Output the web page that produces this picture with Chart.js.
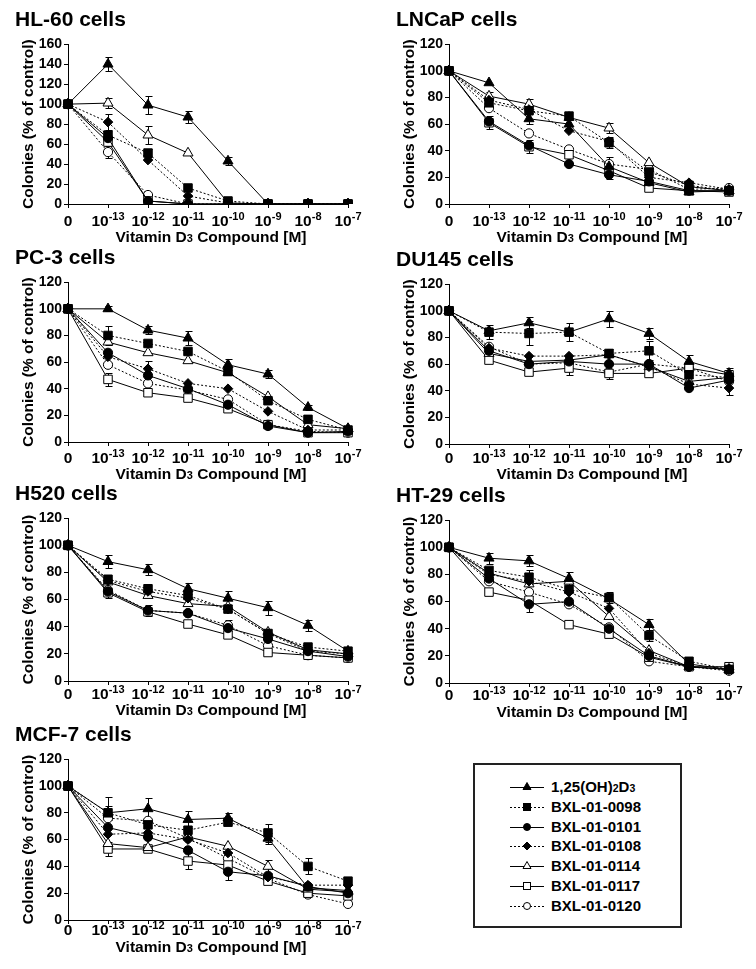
<!DOCTYPE html>
<html>
<head>
<meta charset="utf-8">
<script src="https://cdn.jsdelivr.net/npm/chart.js@4"></script>
<style>
  html, body { margin: 0; padding: 0; background: #fff; }
  body { width: 756px; height: 969px; position: relative; overflow: hidden; font-family: 'Liberation Sans', Arial, sans-serif; }
  canvas.panel { position: absolute; }
  #legend { position: absolute; left: 473px; top: 763px; width: 205px; height: 161px; border: 2px solid #222; }
  #legend .row { position: absolute; left: 0; height: 20px; width: 205px; }
  #legend svg { position: absolute; left: 35px; top: 3px; }
  #legend span.t { position: absolute; left: 76px; top: 1px; font: bold 15px 'Liberation Sans', Arial, sans-serif; color: #000; white-space: nowrap; }
  #legend span.s { font-size: 10.5px; }
</style>
</head>
<body>
<div id="legend"></div>
<script>
// ---------------- DATA ----------------
// "^" marks a superscript, "_" a subscript (one token following it)
const X_LABELS = ['0', '10^-13', '10^-12', '10^-11', '10^-10', '10^-9', '10^-8', '10^-7'];
const SERIES_NAMES = ['1,25(OH)_2D_3', 'BXL-01-0098', 'BXL-01-0101', 'BXL-01-0108', 'BXL-01-0114', 'BXL-01-0117', 'BXL-01-0120'];
const PANEL_TITLES = ['HL-60 cells', 'LNCaP cells', 'PC-3 cells', 'DU145 cells', 'H520 cells', 'HT-29 cells', 'MCF-7 cells'];
const Y_TITLE = 'Colonies (% of control)';
const X_TITLE = 'Vitamin D_3 Compound [M]';
const Y_MAX = [160, 120, 120, 120, 120, 120, 120];

// rows follow SERIES_NAMES order
const HL60_VALUES = [
  [100, 140, 99, 87, 43, 0, 0, 0],
  [100, 69, 51, 16, 3, 0, 0, 0],
  [100, 66, 3, 0, 0, 0, 0, 0],
  [100, 82, 44, 8, 1, 0, 0, 0],
  [100, 101, 69, 51, 1, 0, 0, 0],
  [100, 62, 3, 0, 0, 0, 0, 0],
  [100, 52, 9, 0, 0, 0, 0, 0]
];
const HL60_ERRORS = [
  [0, 7, 9, 6, 4, 0, 0, 0],
  [0, 0, 4, 0, 0, 0, 0, 0],
  [0, 0, 0, 0, 0, 0, 0, 0],
  [0, 8, 0, 0, 0, 0, 0, 0],
  [0, 5, 9, 0, 0, 0, 0, 0],
  [0, 0, 0, 0, 0, 0, 0, 0],
  [0, 6, 0, 0, 0, 0, 0, 0]
];
const LNCAP_VALUES = [
  [100, 91, 64, 60, 28, 16, 9, 10],
  [100, 76, 70, 66, 46, 24, 14, 10],
  [100, 62, 44, 30, 22, 17, 10, 10],
  [100, 78, 71, 55, 47, 20, 16, 11],
  [100, 81, 75, 65, 57, 31, 13, 10],
  [100, 61, 43, 37, 25, 12, 10, 9],
  [100, 72, 53, 41, 30, 26, 11, 12]
];
const LNCAP_ERRORS = [
  [0, 0, 4, 0, 0, 0, 0, 0],
  [0, 0, 0, 0, 4, 0, 0, 0],
  [0, 0, 0, 0, 3, 0, 0, 0],
  [0, 0, 0, 0, 0, 0, 0, 0],
  [0, 3, 4, 0, 4, 0, 0, 0],
  [0, 5, 5, 0, 0, 0, 0, 0],
  [0, 0, 0, 0, 5, 0, 0, 0]
];
const PC3_VALUES = [
  [100, 100, 84, 78, 58, 51, 26, 10],
  [100, 80, 74, 68, 53, 31, 17, 9],
  [100, 67, 50, 40, 28, 12, 7, 8],
  [100, 64, 55, 44, 40, 23, 9, 9],
  [100, 75, 67, 61, 52, 34, 13, 10],
  [100, 47, 37, 33, 25, 13, 7, 7],
  [100, 58, 44, 39, 32, 13, 8, 7]
];
const PC3_ERRORS = [
  [0, 2, 3, 5, 4, 3, 2, 0],
  [0, 7, 0, 0, 0, 0, 0, 0],
  [0, 0, 0, 0, 0, 0, 0, 0],
  [0, 0, 6, 0, 0, 0, 0, 0],
  [0, 0, 0, 0, 0, 0, 0, 0],
  [0, 5, 0, 0, 0, 0, 0, 0],
  [0, 0, 0, 0, 0, 0, 0, 0]
];
const DU145_VALUES = [
  [100, 85, 91, 84, 94, 83, 62, 53],
  [100, 84, 83, 84, 68, 70, 52, 50],
  [100, 70, 60, 62, 60, 60, 42, 48],
  [100, 72, 66, 66, 67, 58, 45, 42],
  [100, 68, 62, 63, 67, 58, 47, 50],
  [100, 63, 54, 57, 53, 53, 57, 52],
  [100, 73, 60, 61, 54, 60, 57, 47]
];
const DU145_ERRORS = [
  [0, 0, 4, 0, 6, 4, 5, 4],
  [0, 5, 9, 7, 3, 7, 0, 0],
  [0, 0, 0, 0, 0, 0, 0, 0],
  [0, 0, 0, 0, 0, 0, 0, 5],
  [0, 0, 0, 0, 0, 0, 0, 0],
  [0, 0, 0, 5, 0, 0, 0, 0],
  [0, 0, 0, 0, 5, 0, 0, 0]
];
const H520_VALUES = [
  [100, 88, 82, 68, 61, 54, 41, 22],
  [100, 75, 68, 63, 53, 35, 25, 22],
  [100, 66, 52, 50, 39, 31, 22, 18],
  [100, 74, 66, 61, 53, 35, 22, 20],
  [100, 73, 63, 57, 55, 36, 23, 20],
  [100, 65, 51, 42, 34, 21, 19, 17],
  [100, 67, 52, 50, 41, 26, 19, 17]
];
const H520_ERRORS = [
  [0, 5, 4, 4, 5, 5, 4, 0],
  [0, 0, 0, 0, 0, 0, 0, 0],
  [0, 0, 0, 0, 0, 0, 0, 0],
  [0, 0, 0, 0, 0, 0, 0, 0],
  [0, 0, 0, 0, 0, 0, 0, 0],
  [0, 0, 0, 0, 0, 0, 0, 0],
  [0, 6, 4, 0, 4, 0, 0, 0]
];
const HT29_VALUES = [
  [100, 92, 90, 77, 62, 43, 14, 10],
  [100, 83, 78, 69, 63, 35, 16, 10],
  [100, 77, 58, 60, 40, 20, 12, 10],
  [100, 80, 75, 67, 55, 22, 12, 10],
  [100, 81, 73, 75, 49, 24, 12, 10],
  [100, 67, 61, 43, 36, 19, 12, 12],
  [100, 75, 67, 58, 41, 16, 12, 9]
];
const HT29_ERRORS = [
  [0, 4, 4, 5, 0, 4, 0, 0],
  [0, 0, 5, 0, 4, 4, 0, 0],
  [0, 0, 6, 0, 0, 0, 0, 0],
  [0, 0, 0, 0, 0, 0, 0, 0],
  [0, 0, 0, 0, 0, 0, 0, 0],
  [0, 0, 0, 0, 0, 0, 0, 0],
  [0, 0, 0, 0, 0, 0, 0, 0]
];
const MCF7_VALUES = [
  [100, 80, 83, 75, 76, 61, 24, 22],
  [100, 80, 71, 67, 73, 65, 40, 29],
  [100, 69, 62, 52, 36, 33, 25, 20],
  [100, 64, 65, 60, 50, 32, 26, 26],
  [100, 57, 54, 62, 55, 40, 23, 21],
  [100, 53, 53, 44, 41, 29, 20, 18],
  [100, 76, 74, 61, 46, 31, 19, 12]
];
const MCF7_ERRORS = [
  [0, 12, 8, 6, 4, 4, 0, 0],
  [0, 5, 0, 0, 0, 7, 6, 0],
  [0, 0, 0, 0, 6, 0, 0, 0],
  [0, 0, 0, 0, 0, 0, 0, 0],
  [0, 0, 0, 0, 0, 5, 0, 0],
  [0, 5, 0, 6, 0, 0, 0, 0],
  [0, 0, 0, 0, 0, 0, 0, 0]
];

const PANEL_VALUES = [HL60_VALUES, LNCAP_VALUES, PC3_VALUES, DU145_VALUES, H520_VALUES, HT29_VALUES, MCF7_VALUES];
const PANEL_ERRORS = [HL60_ERRORS, LNCAP_ERRORS, PC3_ERRORS, DU145_ERRORS, H520_ERRORS, HT29_ERRORS, MCF7_ERRORS];

// ---------------- STYLE / LAYOUT ----------------
const FONT = "'Liberation Sans', Arial, sans-serif";
// canvas left, top, height, tick-label baseline offset, axis-title baseline offset
const PANEL_BOXES = [
  [0, 0, 245, 22, 38], [381, 0, 245, 22, 38],
  [0, 238, 245, 21, 37], [381, 240, 245, 19, 35],
  [0, 474, 248, 18, 34], [381, 476, 248, 17, 34],
  [0, 715, 246, 15, 32]
];
const SERIES_STYLE = [
  { pointStyle: 'triangle', fill: '#000', dash: [], r: 5.8 },
  { pointStyle: 'rect', fill: '#000', dash: [2, 2], r: 6 },
  { pointStyle: 'circle', fill: '#000', dash: [], r: 4.6 },
  { pointStyle: 'rectRot', fill: '#000', dash: [2, 2], r: 4.8 },
  { pointStyle: 'triangle', fill: '#fff', dash: [], r: 5.8 },
  { pointStyle: 'rect', fill: '#fff', dash: [], r: 6 },
  { pointStyle: 'circle', fill: '#fff', dash: [2, 2], r: 4.6 }
];

Chart.defaults.font.family = FONT;
Chart.defaults.font.weight = 'bold';
Chart.defaults.color = '#000';

// split "10^-13" / "D_3" into [text, kind] segments
function parseRich(str) {
  const segs = [];
  const re = /([\^_])([^\s\^_A-Za-z\[\]()]+)/g;
  let last = 0, m;
  while ((m = re.exec(str))) {
    if (m.index > last) segs.push([str.slice(last, m.index), 'n']);
    segs.push([m[2], m[1] === '^' ? 'sup' : 'sub']);
    last = re.lastIndex;
  }
  if (last < str.length) segs.push([str.slice(last), 'n']);
  return segs;
}

function drawRich(ctx, str, cx, baseline, size, smallSize, supRise) {
  const segs = parseRich(str);
  const fontFor = k => `bold ${k === 'n' ? size : smallSize}px ${FONT}`;
  let total = 0;
  segs.forEach(([t, k]) => { ctx.font = fontFor(k); total += ctx.measureText(t).width; });
  let x = cx - total / 2;
  segs.forEach(([t, k]) => {
    ctx.font = fontFor(k);
    const y = k === 'sup' ? baseline - supRise : baseline;
    ctx.fillText(t, x, y);
    x += ctx.measureText(t).width;
  });
}

const errorBarPlugin = {
  id: 'errorBars',
  beforeDatasetsDraw(chart) {
    const ctx = chart.ctx, xs = chart.scales.x, ys = chart.scales.y;
    ctx.save();
    ctx.strokeStyle = '#000';
    ctx.lineWidth = 1;
    ctx.setLineDash([]);
    chart.data.datasets.forEach(ds => {
      if (!ds.errors) return;
      ds.data.forEach((v, j) => {
        const e = ds.errors[j];
        if (!e) return;
        const px = Math.round(xs.getPixelForValue(j)) + 0.5;
        const t = Math.round(ys.getPixelForValue(v + e)) + 0.5;
        const b = Math.round(ys.getPixelForValue(Math.max(0, v - e))) + 0.5;
        ctx.beginPath();
        ctx.moveTo(px, t); ctx.lineTo(px, b);
        ctx.moveTo(px - 3, t); ctx.lineTo(px + 4, t);
        ctx.moveTo(px - 3, b); ctx.lineTo(px + 4, b);
        ctx.stroke();
      });
    });
    ctx.restore();
  }
};

const xLabelPlugin = {
  id: 'richXLabels',
  afterDraw(chart) {
    const ctx = chart.ctx, xs = chart.scales.x;
    const o = chart.options.plugins.richXLabels;
    ctx.save();
    ctx.fillStyle = '#000';
    ctx.textBaseline = 'alphabetic';
    ctx.textAlign = 'left';
    chart.data.labels.forEach((lab, i) => {
      drawRich(ctx, lab, xs.getPixelForTick(i), xs.top + o.tickOffset, 15.5, 11, 6);
    });
    const cx = (chart.chartArea.left + chart.chartArea.right) / 2 + 3;
    drawRich(ctx, o.title, cx, xs.top + o.titleOffset, 15.5, 11, 0);
    ctx.restore();
  }
};

PANEL_TITLES.forEach((title, p) => {
  const [left, top, h, tickOff, titleOff] = PANEL_BOXES[p];
  const cv = document.createElement('canvas');
  cv.className = 'panel';
  cv.width = 370; cv.height = h;
  cv.style.left = left + 'px'; cv.style.top = top + 'px';
  cv.style.width = '370px'; cv.style.height = h + 'px';
  document.body.appendChild(cv);

  const datasets = SERIES_NAMES.map((name, s) => {
    const st = SERIES_STYLE[s];
    return {
      label: name,
      data: PANEL_VALUES[p][s],
      errors: PANEL_ERRORS[p][s],
      borderColor: '#000',
      borderWidth: 1,
      borderDash: st.dash,
      pointStyle: st.pointStyle,
      pointRadius: st.r,
      pointBackgroundColor: st.fill,
      pointBorderColor: '#000',
      pointBorderWidth: 1,
      tension: 0,
      fill: false
    };
  });

  new Chart(cv, {
    type: 'line',
    data: { labels: X_LABELS, datasets },
    plugins: [errorBarPlugin, xLabelPlugin],
    options: {
      responsive: false,
      animation: false,
      events: [],
      layout: { padding: { left: 15, right: 22, top: 0, bottom: 0 }, autoPadding: false },
      plugins: {
        legend: { display: false },
        tooltip: { enabled: false },
        richXLabels: { tickOffset: tickOff, titleOffset: titleOff, title: X_TITLE },
        title: {
          display: true, text: title, align: 'start', color: '#000',
          font: { size: 21, weight: 'bold', family: FONT },
          padding: { top: 8, bottom: 11 }
        }
      },
      scales: {
        x: {
          type: 'category',
          offset: false,
          afterFit(scale) { scale.height = 41; },
          grid: { display: true, drawOnChartArea: false, drawTicks: true, tickLength: 4, color: '#000' },
          border: { display: true, color: '#000', width: 1 },
          ticks: { display: false, autoSkip: false, maxRotation: 0, minRotation: 0 },
          title: { display: false }
        },
        y: {
          min: 0, max: Y_MAX[p],
          afterFit(scale) { scale.width = 53; },
          grid: { display: true, drawOnChartArea: false, drawTicks: true, tickLength: 4, color: '#000' },
          border: { display: true, color: '#000', width: 1 },
          ticks: { stepSize: 20, padding: 2, color: '#000', font: { size: 14, weight: 'bold', family: FONT } },
          title: { display: true, text: Y_TITLE, color: '#000', font: { size: 15.5, weight: 'bold', family: FONT }, padding: { top: 4, bottom: 0 } }
        }
      }
    }
  });
});

// ---------------- LEGEND (HTML) ----------------
const legend = document.getElementById('legend');
SERIES_NAMES.forEach((name, s) => {
  const st = SERIES_STYLE[s];
  const row = document.createElement('div');
  row.className = 'row';
  row.style.top = (12 + s * 19.8) + 'px';
  let marker = '';
  const cx = 17, cy = 7;
  if (st.pointStyle === 'triangle') marker = `<polygon points="${cx},${cy - 4.5} ${cx + 4},${cy + 2.5} ${cx - 4},${cy + 2.5}" fill="${st.fill}" stroke="#000" stroke-width="1"/>`;
  else if (st.pointStyle === 'rect') marker = `<rect x="${cx - 3.5}" y="${cy - 3.5}" width="7" height="7" fill="${st.fill}" stroke="#000" stroke-width="1"/>`;
  else if (st.pointStyle === 'circle') marker = `<circle cx="${cx}" cy="${cy}" r="3.5" fill="${st.fill}" stroke="#000" stroke-width="1"/>`;
  else marker = `<polygon points="${cx},${cy - 4} ${cx + 4},${cy} ${cx},${cy + 4} ${cx - 4},${cy}" fill="${st.fill}" stroke="#000" stroke-width="1"/>`;
  const dash = st.dash.length ? 'stroke-dasharray="2,2"' : '';
  const html = parseRich(name).map(([t, k]) => k === 'n' ? t : `<span class="s">${t}</span>`).join('');
  row.innerHTML = `<svg width="36" height="14"><line x1="0" y1="${cy + 0.5}" x2="34" y2="${cy + 0.5}" stroke="#000" stroke-width="1" ${dash}/>${marker}</svg><span class="t">${html}</span>`;
  legend.appendChild(row);
});
</script>
</body>
</html>
